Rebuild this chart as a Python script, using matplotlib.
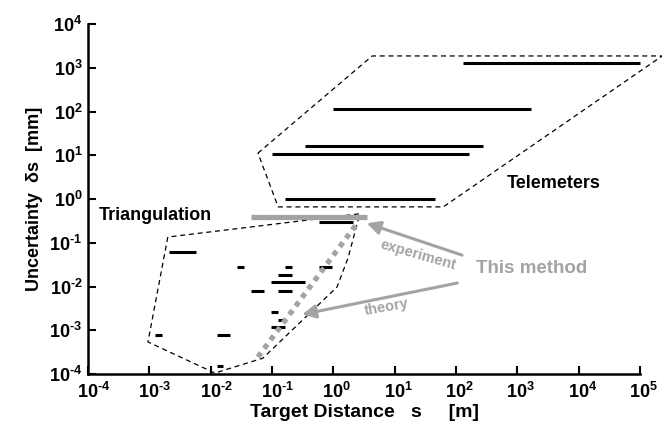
import matplotlib
matplotlib.use("Agg")
import matplotlib.pyplot as plt
from matplotlib.ticker import FixedLocator, NullLocator
from matplotlib.transforms import ScaledTranslation

plt.rcParams['font.family'] = ['Liberation Sans', 'DejaVu Sans']
plt.rcParams['font.weight'] = 'bold'
plt.rcParams['axes.labelweight'] = 'bold'
plt.rcParams['mathtext.fontset'] = 'custom'
plt.rcParams['mathtext.rm'] = 'Liberation Sans:bold'
plt.rcParams['mathtext.bf'] = 'Liberation Sans:bold'
plt.rcParams['mathtext.it'] = 'Liberation Sans:bold'
plt.rcParams['mathtext.default'] = 'bf'

GRAY = '#a3a3a3'

# telemeter ranges (s_min, s_max [m], ds [mm])
tele_x0 = [130, 1.0, 0.35, 0.10, 0.16]
tele_x1 = [1e5, 1660, 275, 160, 45]
tele_y = [1300, 115, 16, 10.7, 1.0]

# triangulation ranges
tri_x0 = [0.0021, 0.027, 0.16, 0.59, 0.126, 0.095, 0.046, 0.126, 0.095, 0.126, 0.095,
          0.00123, 0.0126, 0.0126, 0.59]
tri_x1 = [0.0058, 0.035, 0.21, 0.95, 0.21, 0.35, 0.074, 0.21, 0.126, 0.16, 0.16,
          0.00162, 0.021, 0.0158, 2.1]
tri_y = [0.062, 0.028, 0.028, 0.028, 0.018, 0.0126, 0.0079, 0.0079, 0.0026, 0.0017, 0.00117,
         0.00078, 0.00078, 0.00015, 0.30]

# this method
exp_x = [0.046, 3.5]
exp_y = [0.39, 0.39]
theory_x = [0.059, 2.45]
theory_y = [0.000245, 0.28]

# region outlines
tele_poly_x = [0.059, 4.3, 2.3e5, 62, 0.126, 0.059]
tele_poly_y = [11.2, 1860, 1860, 0.66, 0.66, 11.2]
tri_poly_x = [0.002, 0.00095, 0.0117, 0.071, 1.15, 1.74, 2.7, 0.002]
tri_poly_y = [0.135, 0.00054, 0.000105, 0.00023, 0.0098, 0.045, 0.46, 0.135]

decades = [-4, -3, -2, -1, 0, 1, 2, 3, 4, 5]

def label(e):
    if e < 0:
        return r'$10^{\text{-}%d}$' % (-e)
    return r'$10^{%d}$' % e

fig = plt.figure(figsize=(6.62, 4.26), dpi=100)
ax = fig.add_axes([88/662, 52/426, 552/662, 350/426])
ax.set_xscale('log')
ax.set_yscale('log')
ax.set_xlim(1e-4, 1e5)
ax.set_ylim(1e-4, 1e4)

ax.plot(tele_poly_x, tele_poly_y, color='black', lw=0.9, ls=(0, (4, 3)), clip_on=False)
ax.plot(tri_poly_x, tri_poly_y, color='black', lw=0.9, ls=(0, (4, 3)))

for x0, x1, y in zip(tele_x0, tele_x1, tele_y):
    ax.plot([x0, x1], [y, y], color='black', lw=2.2, solid_capstyle='butt', clip_on=False)
for x0, x1, y in zip(tri_x0, tri_x1, tri_y):
    ax.plot([x0, x1], [y, y], color='black', lw=2.2, solid_capstyle='butt')

ax.plot(exp_x, exp_y, color=GRAY, lw=3.8, solid_capstyle='butt')
ax.plot(theory_x, theory_y, color=GRAY, lw=3.8, ls=(0, (1, 1)))

arr = dict(arrowstyle='-|>', color=GRAY, lw=2.2, mutation_scale=20, shrinkA=0, shrinkB=0)
ax.annotate('', xy=(3.5, 0.28), xytext=(126, 0.052), arrowprops=arr)
ax.annotate('', xy=(0.31, 0.0023), xytext=(105, 0.012), arrowprops=arr)

ax.text(1.5e-4, 0.41, 'Triangulation', fontsize=13, va='center', ha='left')
ax.text(680, 2.3, 'Telemeters', fontsize=13, va='center', ha='left')
ax.text(1740, 0.026, 'This method', fontsize=13.5, color=GRAY, va='center', ha='center')
ax.text(24, 0.052, 'experiment', fontsize=10.5, color=GRAY, rotation=-16,
        va='center', ha='center')
ax.text(7.5, 0.0034, 'theory', fontsize=10.5, color=GRAY, rotation=10,
        va='center', ha='center')

ax.xaxis.set_major_locator(FixedLocator([10.0**e for e in decades]))
ax.yaxis.set_major_locator(FixedLocator([10.0**e for e in decades[:-1]]))
ax.xaxis.set_minor_locator(NullLocator())
ax.yaxis.set_minor_locator(NullLocator())
ax.set_xticklabels([label(e) for e in decades])
ax.set_yticklabels([label(e) for e in decades[:-1]])
ax.tick_params(direction='in', length=6, width=1.5, labelsize=13)
ax.tick_params(axis='x', pad=6)
ax.tick_params(axis='y', pad=4)

# shift x labels so the "10" sits centred on its tick
for tick, e in zip(ax.xaxis.get_major_ticks(), decades):
    dx = (0.62 if e < 0 else 0.39) * 13 / 2 / 72
    tick.label1.set_transform(tick.label1.get_transform()
                              + ScaledTranslation(dx, 0, fig.dpi_scale_trans))

for s in ['top', 'right']:
    ax.spines[s].set_visible(False)
for s in ['left', 'bottom']:
    ax.spines[s].set_linewidth(1.8)

ax.set_xlabel('Target Distance   s     [m]', fontsize=14, labelpad=1)
ax.set_ylabel('Uncertainty  δs  [mm]', fontsize=13, labelpad=4)

fig.savefig('out.png', dpi=100)
